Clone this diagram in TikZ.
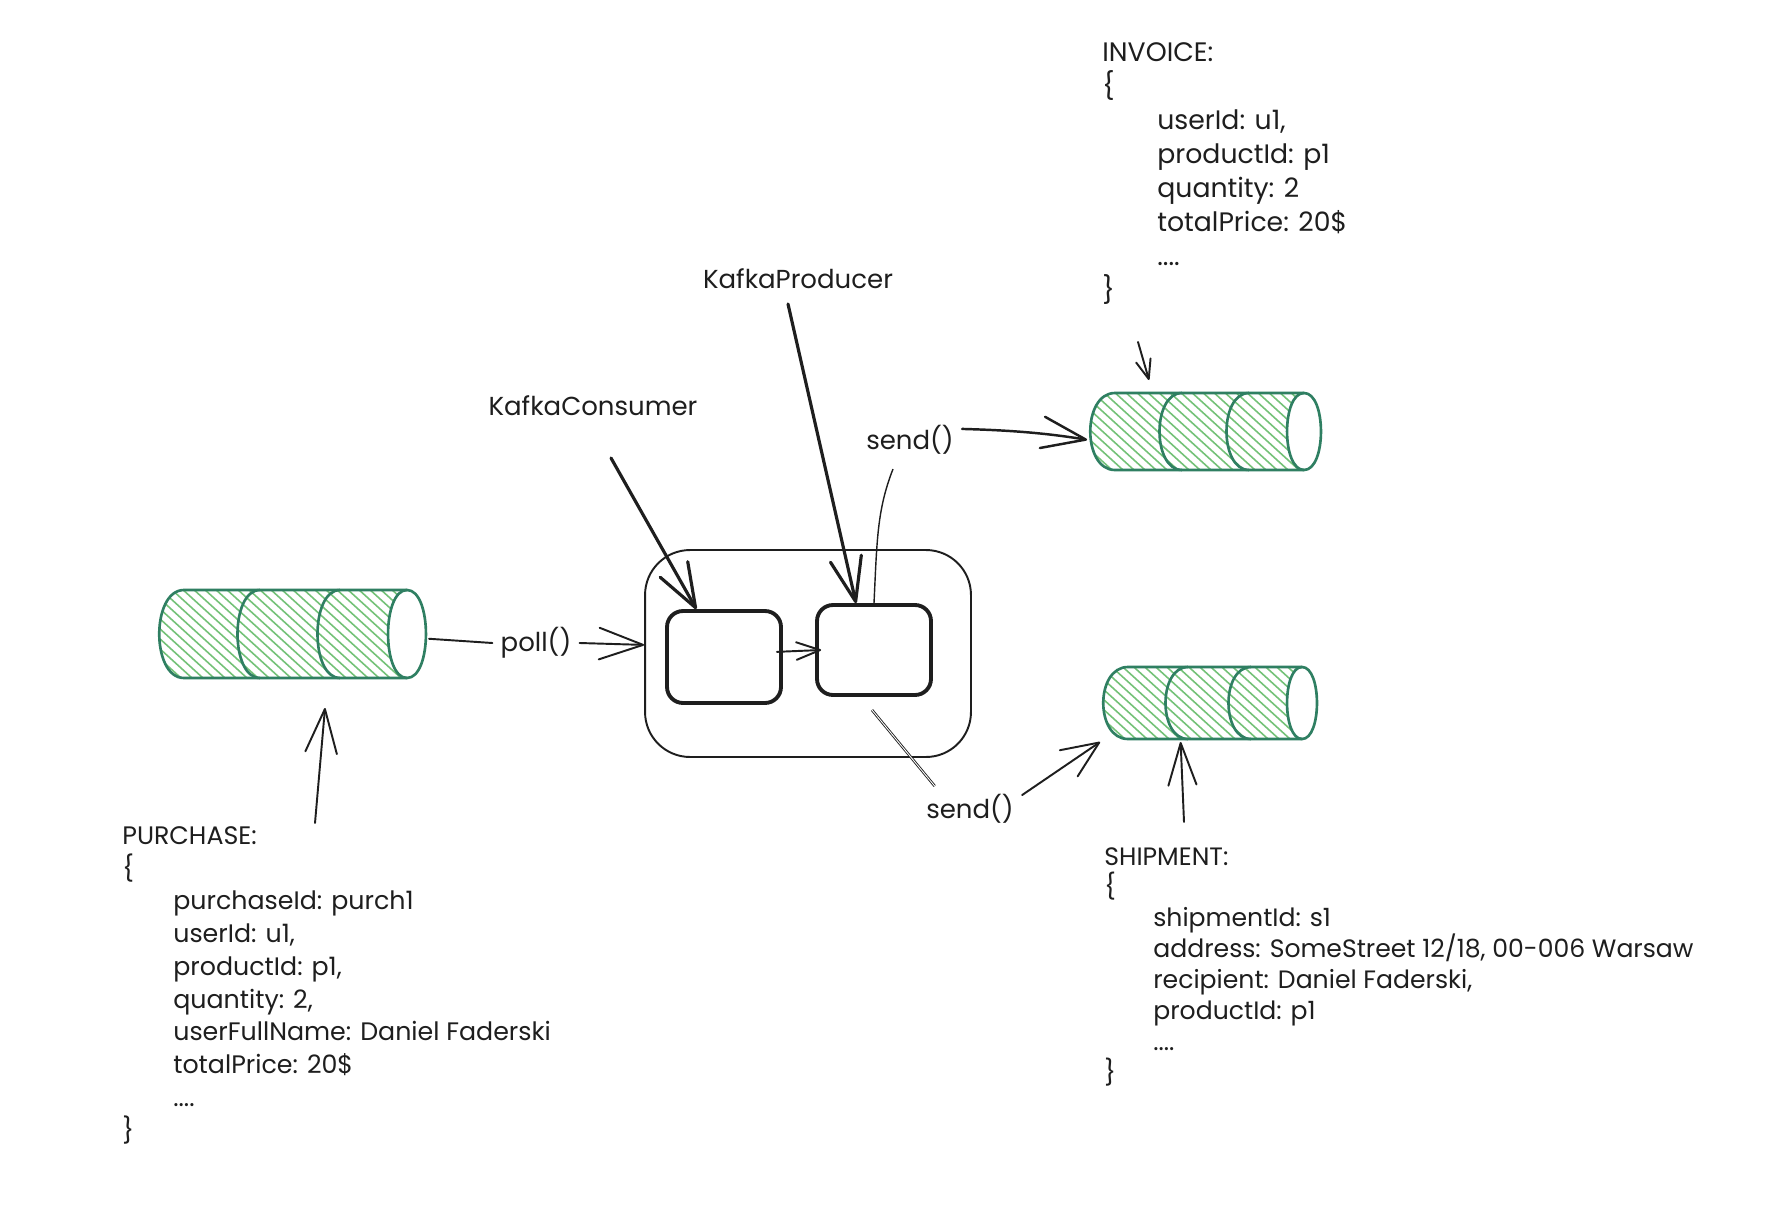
\documentclass[tikz,border=0pt]{standalone}
\usepackage{fontspec}
\setmainfont{Poppins}
\usetikzlibrary{arrows.meta,fit}
\definecolor{ink}{HTML}{1E1E1E}
\definecolor{queueline}{HTML}{2F7F62}
\definecolor{queuefill}{HTML}{74C278}
\tikzset{
    sketch/.style={ink, line width=1.1pt, line cap=round},
    thinline/.style={ink, line width=0.5pt, double=white, double distance=0.5pt},
    bigtip/.style={sketch, -{Straight Barb[length=25pt,width=18pt,round]}},
    boldtip/.style={sketch, line width=1.8pt, -{Straight Barb[length=25pt,width=18pt,round]}},
    boxthick/.style={draw=ink, line width=2.2pt, inner sep=0pt, rounded corners=0.32cm},
    tag/.style={ink, font=\fontsize{14.8}{18}\selectfont, inner sep=0.16cm},
    block/.style={ink, anchor=north west, align=left, inner sep=0pt},
}
% one queue: name, left, cap centre, cap radius, top, bottom, two dividers
\newcommand{\drawqueue}[8]{
    \pgfmathsetmacro{\hgt}{#6-#5}
    \begin{scope}
        \clip ({#2+25},#5) -- (#3,#5)
            .. controls ({#3-1.33*#4},#5) and ({#3-1.33*#4},#6) .. (#3,#6)
            -- ({#2+25},#6)
            .. controls ({#2-8},#6) and ({#2-8},#5) .. cycle;
        \foreach \s in {0,11,...,440}
            \draw[queuefill, line width=0.9pt]
                ({#2-\hgt*1.1+\s},#5) -- ({#2+\s},#6);
    \end{scope}
    \draw[queueline, line width=1.5pt]
        (#3,#5) -- ({#2+25},#5)
        .. controls ({#2-8},#5) and ({#2-8},#6) .. ({#2+25},#6) -- (#3,#6);
    \draw[queueline, line width=1.5pt] (#7,#5)
        .. controls ({#7-30},#5) and ({#7-30},#6) .. (#7,#6);
    \draw[queueline, line width=1.5pt] (#8,#5)
        .. controls ({#8-30},#5) and ({#8-30},#6) .. (#8,#6);
    \draw[queueline, line width=1.5pt] (#3,#5)
        .. controls ({#3-1.33*#4},#5) and ({#3-1.33*#4},#6) .. (#3,#6)
        .. controls ({#3+1.33*#4},#6) and ({#3+1.33*#4},#5) .. cycle;
    \node[fit={(#2,#5) ({#3+#4},#6)}, inner sep=0pt, outer sep=1.7pt] (#1) {};
}
\begin{document}
\begin{tikzpicture}[x=0.02cm, y=-0.02cm, >=stealth]
    \useasboundingbox (0,0) rectangle (1784,1220);
    \fill[white] (0,0) rectangle (1784,1220);

    % queues
    \drawqueue{purchaseQueue}{159}{407}{19}{590}{678}{260}{340}
    \drawqueue{invoiceQueue}{1090}{1304}{17}{393}{470}{1182}{1249}
    \drawqueue{shipmentQueue}{1103}{1302}{15}{667}{739}{1188}{1251}

    % service with its two clients
    \node[draw=ink, line width=1.1pt, rounded corners=0.9cm, minimum width=6.52cm,
        minimum height=4.14cm, inner sep=0pt] (service) at (808,653.5) {};
    \node[boxthick, minimum width=2.28cm, minimum height=1.84cm] (consumer) at (724,657) {};
    \node[boxthick, minimum width=2.28cm, minimum height=1.80cm] (producer) at (874,650) {};

    % labels
    \node[tag] (consumerLabel) at (593,406) {KafkaConsumer};
    \node[tag] (producerLabel) at (798,279) {KafkaProducer};
    \node[tag] (pollLabel) at (536,643) {poll()};
    \node[tag] (sendUpper) at (910,440) {send()};
    \node[tag] (sendLower) at (970,809) {send()};

    % messages
    \node[block, font=\fontsize{14.4}{18.66}\selectfont] (purchaseText) at (122,826) {%
        PURCHASE:\\ \{\\
        \hspace*{1.02cm}purchaseId: purch1\\
        \hspace*{1.02cm}userId: u1,\\
        \hspace*{1.02cm}productId: p1,\\
        \hspace*{1.02cm}quantity: 2,\\
        \hspace*{1.02cm}userFullName: Daniel Faderski\\
        \hspace*{1.02cm}totalPrice: 20\$\\
        \hspace*{1.02cm}....\\ \}};
    \node[block, font=\fontsize{15.2}{19.35}\selectfont] (invoiceText) at (1102,42) {%
        INVOICE:\\ \{\\
        \hspace*{1.10cm}userId: u1,\\
        \hspace*{1.10cm}productId: p1\\
        \hspace*{1.10cm}quantity: 2\\
        \hspace*{1.10cm}totalPrice: 20\$\\
        \hspace*{1.10cm}....\\ \}};
    \node[block, font=\fontsize{14.3}{17.58}\selectfont] (shipmentText) at (1104,847) {%
        SHIPMENT:\\ \{\\
        \hspace*{0.98cm}shipmentId: s1\\
        \hspace*{0.98cm}address: SomeStreet 12/18, 00-006 Warsaw\\
        \hspace*{0.98cm}recipient: Daniel Faderski,\\
        \hspace*{0.98cm}productId: p1\\
        \hspace*{0.98cm}....\\ \}};

    % free ends of the connectors
    \coordinate (purchaseFrom) at (315,823);
    \coordinate (purchaseTo) at (325,708);
    \coordinate (invoiceFrom) at (1138,342);
    \coordinate (invoiceTo) at (1149,380);
    \coordinate (shipmentFrom) at (1184,822);
    \coordinate (consumerFrom) at (611,458);
    \coordinate (producerFrom) at (788,304);
    \coordinate (upperBend) at (893,469);
    \coordinate (lowerBend) at (872,710);

    \draw[bigtip] (purchaseFrom) -- (purchaseTo);
    \draw[sketch] (purchaseQueue.-2) -- (pollLabel.west);
    \draw[bigtip] (pollLabel.east) -- (service.177);
    \draw[boldtip] (consumerFrom) -- (consumer.120);
    \draw[boldtip] (producerFrom) -- (producer.111);
    \draw[sketch, -{Straight Barb[length=13.5pt,width=10pt,round]}]
        ([xshift=-0.12cm]consumer.5) -- ([xshift=0.12cm]producer.180);
    \draw[ink, line width=0.8pt] (producer.north) .. controls (877,540) and (877,510) .. (upperBend);
    \draw[bigtip, line width=1.4pt] (sendUpper.12) .. controls (1000,430) and (1040,432) .. (invoiceQueue.184);
    \draw[thinline] (lowerBend) -- (sendLower.147);
    \draw[sketch, -{Straight Barb[length=21pt,width=18pt,round]}]
        (sendLower.15) -- (shipmentQueue.south west);
    \draw[sketch, -{Straight Barb[length=24pt,width=16pt,round]}]
        (shipmentFrom) -- (shipmentQueue.-127);
    \draw[sketch, -{Straight Barb[length=11pt,width=8.5pt,round]}]
        (invoiceFrom) -- (invoiceTo);
\end{tikzpicture}
\end{document}
